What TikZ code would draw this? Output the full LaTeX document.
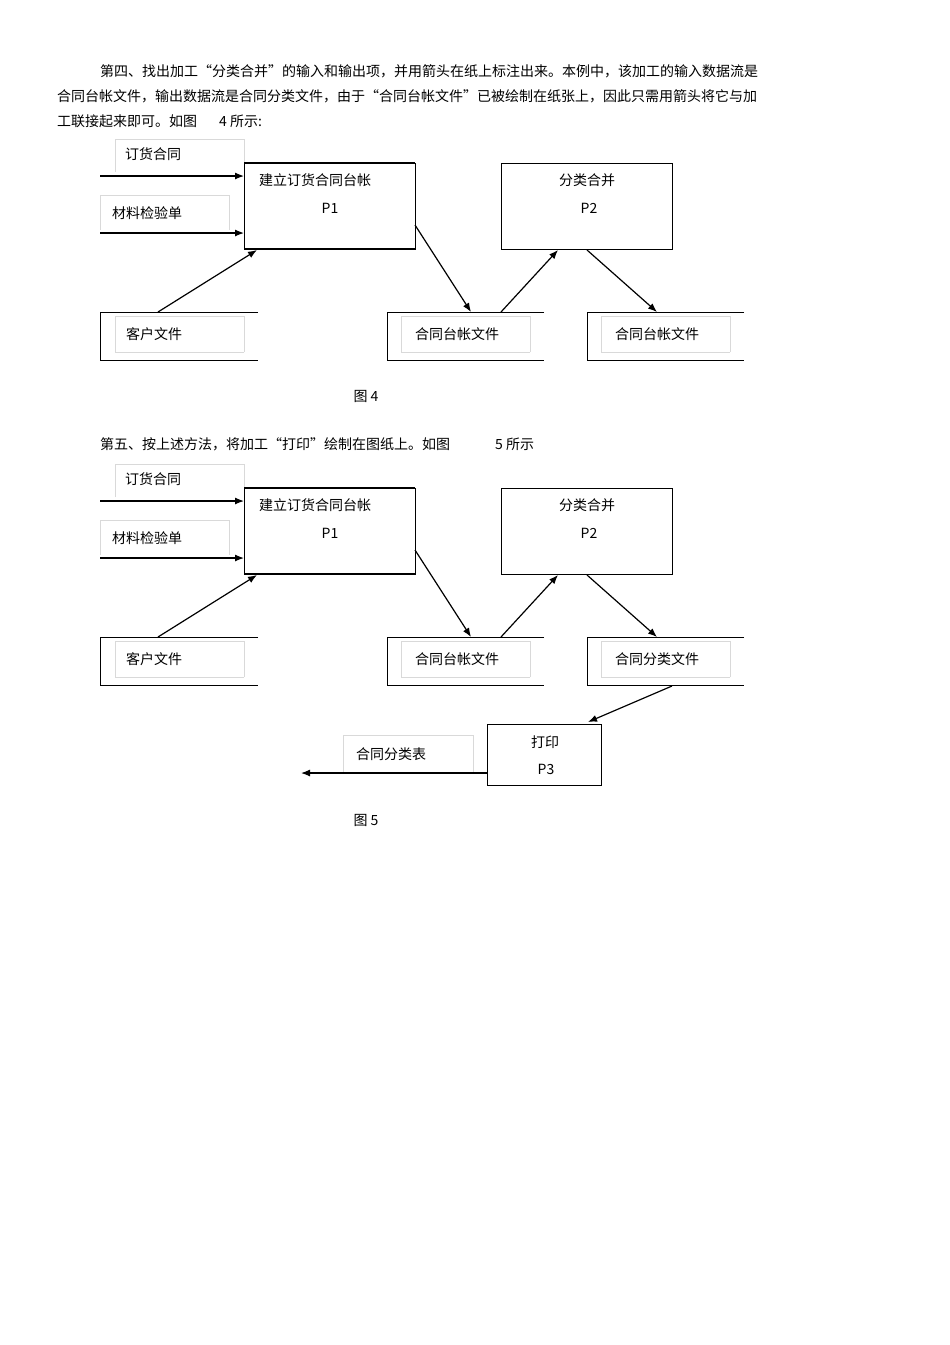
\documentclass[tikz,border=0pt]{standalone}
\usepackage{fontspec}
\setmainfont{Noto Sans CJK SC}
\usetikzlibrary{arrows.meta}
\begin{document}
\begin{tikzpicture}[x=1pt,y=-1pt,
  txt/.style={font=\fontsize{14}{16}\selectfont,inner sep=0pt,anchor=west},
  ctxt/.style={font=\fontsize{14}{16}\selectfont,inner sep=0pt},
  lbl/.style={draw=black!15,line width=0.8pt},
  proc/.style={draw,line width=0.9pt},
  thick edge/.style={line width=2pt},
  flow/.style={line width=1.2pt,-{Latex[length=9pt,width=7pt]}},
  store/.style={line width=1pt}]
\useasboundingbox (0,0) rectangle (950,1345);
\fill[white] (0,0) rectangle (950,1345);
\node[txt] (t1) at (100,71) {第四、找出加工“分类合并”的输入和输出项，并用箭头在纸上标注出来。本例中，该加工的输入数据流是};
\node[txt] (t2) at (57,96) {合同台帐文件，输出数据流是合同分类文件，由于“合同台帐文件”已被绘制在纸张上，因此只需用箭头将它与加};
\node[txt] (t3) at (57,121) {工联接起来即可。如图\hspace{22pt}4 所示:};
\node[txt] (t4) at (100,444) {第五、按上述方法，将加工“打印”绘制在图纸上。如图\hspace{45pt}5 所示};
\newcommand{\mydiag}[3]{%
\begin{scope}[yshift=#1]
\draw[lbl] (115,172) -- (115,139) -- (244,139) -- (244,172);
\node[txt] (a#2) at (125,154) {订货合同};
\draw[lbl] (100,230) -- (100,195) -- (229,195) -- (229,230);
\node[txt] (b#2) at (112,213) {材料检验单};
\draw[proc] (244,163) rectangle (415,249);
\draw[thick edge] (244,163) -- (415,163) (244,249) -- (415,249);
\node[ctxt] (p1#2) at (315,180) {建立订货合同台帐};
\node[ctxt] at (330,208) {P1};
\coordinate (i1#2) at (100,176); \coordinate (j1#2) at (244,176);
\coordinate (i2#2) at (100,233); \coordinate (j2#2) at (244,233);
\draw[flow] (i1#2) -- (j1#2);
\draw[flow] (i2#2) -- (j2#2);
\draw[proc] (501,163) rectangle (672,249);
\node[ctxt] (p2#2) at (587,180) {分类合并};
\node[ctxt] at (589,208) {P2};
% stores
\draw[store] (258,312) -- (100,312) -- (100,360) -- (258,360);
\draw[lbl] (244,352) -- (115,352) -- (115,316) -- (244,316) -- (244,352);
\node[txt] (s1#2) at (126,334) {客户文件};
\draw[store] (544,312) -- (387,312) -- (387,360) -- (544,360);
\draw[lbl] (530,352) -- (401,352) -- (401,316) -- (530,316) -- (530,352);
\node[txt] (s2#2) at (415,334) {合同台帐文件};
\draw[store] (744,312) -- (587,312) -- (587,360) -- (744,360);
\draw[lbl] (730,352) -- (601,352) -- (601,316) -- (730,316) -- (730,352);
\node[txt] (s3#2) at (615,334) {#3};
\coordinate (c1#2) at (158,312); \coordinate (d1#2) at (257,250);
\coordinate (c2#2) at (415,225); \coordinate (d2#2) at (471,312);
\coordinate (c3#2) at (501,312); \coordinate (d3#2) at (558,250);
\coordinate (c4#2) at (587,250); \coordinate (d4#2) at (657,312);
\draw[flow] (c1#2) -- (d1#2);
\draw[flow] (c2#2) -- (d2#2);
\draw[flow] (c3#2) -- (d3#2);
\draw[flow] (c4#2) -- (d4#2);
\end{scope}}
\mydiag{0pt}{x}{合同台帐文件}
\mydiag{-325pt}{y}{合同分类文件}
\node[ctxt] (f4) at (366,396) {图 4};
% P3
\draw[lbl] (343,772) -- (343,735) -- (473,735) -- (473,772);
\node[txt] (o) at (356,754) {合同分类表};
\node[proc,minimum width=114pt,minimum height=61pt,inner sep=0pt] (p3) at (544,754.5) {};
\node[ctxt] at (545,742) {打印};
\node[ctxt] at (546,769) {P3};
\coordinate (e1) at (672,686); \coordinate (e2) at (588,722);
\draw[flow] (e1) -- (e2);
\coordinate (e3) at (487,773); \coordinate (e4) at (301,773);
\draw[flow] (e3) -- (e4);
\node[ctxt] (f5) at (366,820) {图 5};
\end{tikzpicture}
\end{document}
